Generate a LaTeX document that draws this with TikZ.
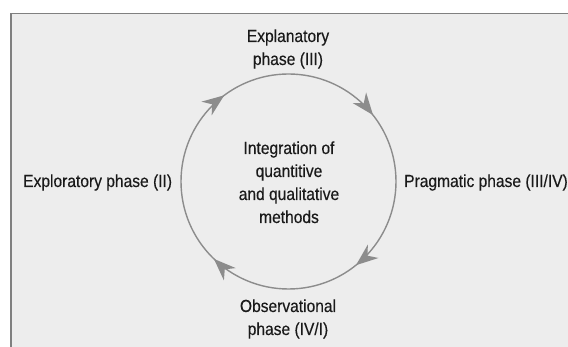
\documentclass[tikz,border=0pt]{standalone}
\usepackage{fontspec}
\setmainfont[FakeStretch=0.89,FakeBold=0.3]{Liberation Sans}
\usetikzlibrary{arrows.meta,decorations.markings}
\definecolor{bg}{HTML}{EDEDED}
\definecolor{framec}{HTML}{808080}
\definecolor{ring}{HTML}{8C8C8C}
\definecolor{ink}{HTML}{1A1A1A}
\tikzset{cyctip/.tip={Stealth[length=22pt,width=17pt,inset=7pt]}}
\begin{document}
\begin{tikzpicture}[x=1pt,y=1pt,
  lbl/.style={font=\fontsize{17.5}{23}\selectfont, text=ink, inner sep=0pt, align=center},
  ringline/.style={draw=ring, line width=1.4pt}]
\useasboundingbox (0,0) rectangle (568,347);
\fill[bg] (11,-5) rectangle (575,333.5);
\draw[framec, line width=1.3pt] (11,-5) -- (11,333.5) -- (575,333.5);
\coordinate (c) at (288.5,165.5);
\draw[ringline, postaction={decorate}, decoration={markings,
  mark=at position 0.142 with {\arrow{cyctip}},
  mark=at position 0.372 with {\arrow{cyctip}},
  mark=at position 0.648 with {\arrow{cyctip}},
  mark=at position 0.894 with {\arrow{cyctip}}}]
  (c) ++(0:107.5) arc[start angle=360,end angle=0,radius=107.5];
\node[lbl, anchor=base] (expl) at (288,282) {Explanatory\\phase (III)};
\node[lbl, anchor=base] (core) at (289,124) {Integration of\\quantitive\\and qualitative\\methods};
\node[lbl, anchor=base west] (explo) at (23,160) {Exploratory phase (II)};
\node[lbl, anchor=base west] (prag) at (404,160) {Pragmatic phase (III/IV)};
\node[lbl, anchor=base] (obs) at (288,12) {Observational\\phase (IV/I)};
\end{tikzpicture}
\end{document}
